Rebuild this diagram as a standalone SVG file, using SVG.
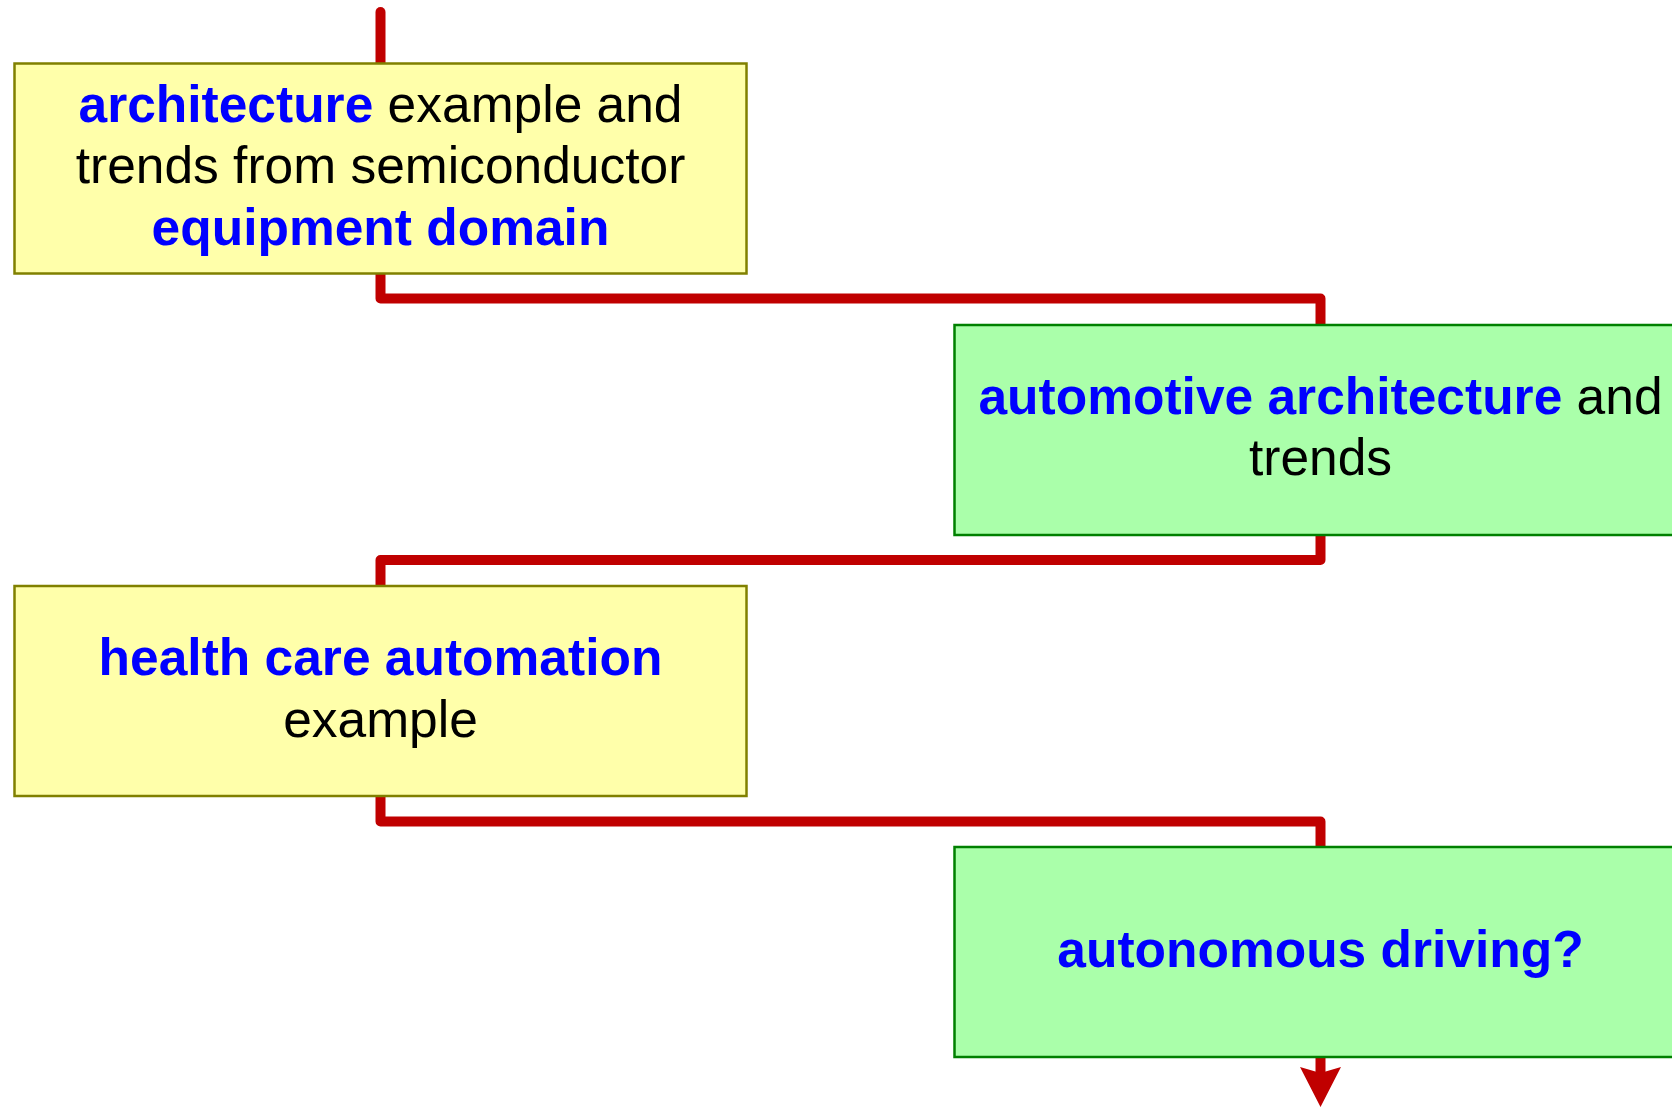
<svg xmlns="http://www.w3.org/2000/svg" width="1672" height="1107" viewBox="0 0 1672 1107">
<style>
.yel{fill:#FFFFAA;stroke:#808000;stroke-width:2.5}
.grn{fill:#AAFFAA;stroke:#008000;stroke-width:2.5}
.conn{fill:none;stroke:#C00000;stroke-width:10;stroke-linejoin:round;stroke-linecap:round}
text{font-family:"Liberation Sans",Arial,sans-serif;font-size:51.5px;text-anchor:middle;fill:#000}
.b{font-weight:bold;fill:#0000FF}
</style>
<rect width="1672" height="1107" fill="#fff"/>
<g id="connectors">
<path class="conn" d="M380.5,12 V70"/>
<path class="conn" d="M380.5,270 V298.5 H1320.5 V330"/>
<path class="conn" d="M1320.5,530 V560 H380.5 V590"/>
<path class="conn" d="M380.5,790 V821.5 H1320.5 V852"/>
<path class="conn" d="M1320.5,1052 V1075" style="stroke-linecap:butt"/>
<polygon points="1300,1067 1320.5,1073 1341,1067 1320.5,1107" fill="#C00000"/>
</g>
<g id="node1">
<rect class="yel" x="14.5" y="63.5" width="732" height="210"/>
<text x="380.5" y="121.5"><tspan class="b">architecture</tspan> example and</text>
<text x="380.5" y="183">trends from semiconductor</text>
<text x="380.5" y="245" class="b">equipment domain</text>
</g>
<g id="node2">
<rect class="grn" x="954.5" y="325" width="732" height="210"/>
<text x="1320.5" y="413.5"><tspan class="b">automotive architecture</tspan> and</text>
<text x="1320.5" y="475">trends</text>
</g>
<g id="node3">
<rect class="yel" x="14.5" y="586" width="732" height="210"/>
<text x="380.5" y="675" class="b">health care automation</text>
<text x="380.5" y="736.5">example</text>
</g>
<g id="node4">
<rect class="grn" x="954.5" y="847" width="732" height="210"/>
<text x="1320.5" y="966.5" class="b">autonomous driving?</text>
</g>
</svg>
